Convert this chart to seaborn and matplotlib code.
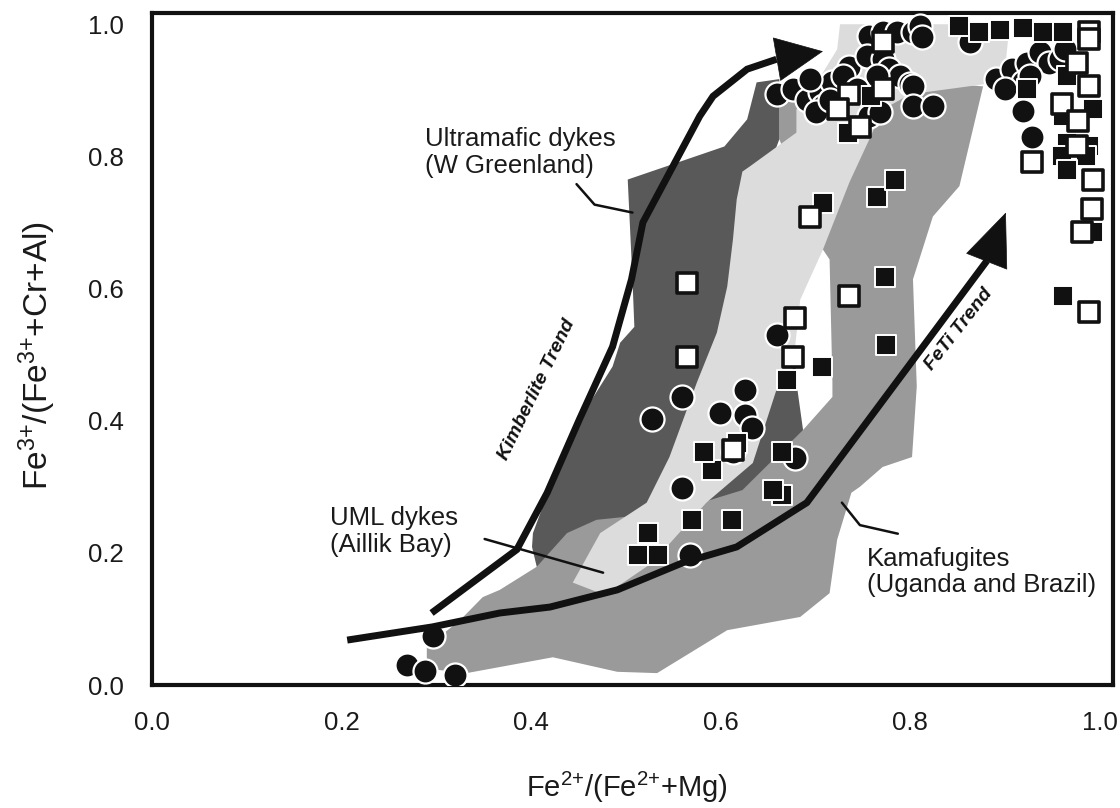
import matplotlib
matplotlib.use("Agg")
import matplotlib.pyplot as plt
import seaborn as sns

# ---- compositional fields: Fe2+/(Fe2++Mg) vs Fe3+/(Fe3++Cr+Al) ----
kamafugite_x = [0.290, 0.290, 0.301, 0.332, 0.423, 0.491, 0.533, 0.607, 0.684, 0.715,
                0.723, 0.738, 0.747, 0.771, 0.802, 0.807, 0.803, 0.824, 0.852, 0.877,
                0.800, 0.700, 0.662, 0.662, 0.690, 0.708, 0.715, 0.718, 0.718, 0.687,
                0.600, 0.500, 0.440, 0.410, 0.406, 0.367, 0.349, 0.325]
kamafugite_y = [0.058, 0.038, 0.023, 0.018, 0.042, 0.020, 0.018, 0.083, 0.103, 0.139,
                0.220, 0.291, 0.300, 0.330, 0.345, 0.452, 0.614, 0.709, 0.755, 0.906,
                0.915, 0.915, 0.895, 0.826, 0.720, 0.659, 0.644, 0.458, 0.436, 0.386,
                0.340, 0.300, 0.260, 0.200, 0.179, 0.144, 0.133, 0.098]

greenland_x = [0.502, 0.549, 0.604, 0.628, 0.638, 0.662, 0.662, 0.650, 0.675, 0.680,
               0.687, 0.623, 0.589, 0.550, 0.469, 0.438, 0.406, 0.401, 0.402, 0.423,
               0.451, 0.486, 0.494, 0.509, 0.507]
greenland_y = [0.765, 0.788, 0.815, 0.856, 0.912, 0.917, 0.826, 0.780, 0.600, 0.458,
               0.386, 0.295, 0.280, 0.262, 0.250, 0.230, 0.179, 0.209, 0.230, 0.311,
               0.402, 0.482, 0.518, 0.542, 0.614]

aillik_x = [0.726, 0.723, 0.708, 0.680, 0.680, 0.631, 0.623, 0.617, 0.613, 0.607,
            0.596, 0.575, 0.546, 0.522, 0.473, 0.444, 0.473, 0.486, 0.528, 0.585,
            0.634, 0.659, 0.676, 0.684, 0.708, 0.736, 0.757, 0.771, 0.800, 0.877,
            0.900, 0.905]
aillik_y = [1.000, 0.962, 0.927, 0.871, 0.836, 0.785, 0.777, 0.735, 0.674, 0.603,
            0.533, 0.458, 0.345, 0.276, 0.230, 0.155, 0.139, 0.144, 0.185, 0.276,
            0.336, 0.447, 0.477, 0.583, 0.659, 0.761, 0.826, 0.871, 0.894, 0.909,
            0.930, 1.000]

# ---- spinel analyses ----
circle_x = [0.296, 0.269, 0.288, 0.320,
            0.559, 0.528, 0.599, 0.626, 0.626, 0.633, 0.613, 0.678, 0.559, 0.568, 0.660,
            0.757, 0.771, 0.786, 0.803, 0.810, 0.813, 0.736, 0.754, 0.771, 0.778, 0.789,
            0.800, 0.660, 0.676, 0.691, 0.705, 0.718, 0.729, 0.708, 0.701, 0.715, 0.757,
            0.768, 0.803, 0.803, 0.824, 0.765, 0.744, 0.694,
            0.863, 0.891, 0.908, 0.923, 0.937, 0.947, 0.919, 0.926, 0.919, 0.929, 0.958,
            0.900, 0.963]
circle_y = [0.074, 0.030, 0.021, 0.015,
            0.436, 0.402, 0.412, 0.447, 0.409, 0.389, 0.352, 0.344, 0.298, 0.197, 0.530,
            0.982, 0.989, 0.989, 0.988, 0.997, 0.980, 0.936, 0.952, 0.947, 0.932, 0.921,
            0.909, 0.894, 0.902, 0.886, 0.897, 0.912, 0.921, 0.876, 0.867, 0.886, 0.861,
            0.867, 0.906, 0.876, 0.876, 0.921, 0.902, 0.917,
            0.973, 0.917, 0.932, 0.942, 0.958, 0.942, 0.912, 0.921, 0.868, 0.830, 0.947,
            0.902, 0.962]

black_sq_x = [0.617, 0.591, 0.583, 0.665, 0.670, 0.707, 0.665, 0.655, 0.570, 0.612,
              0.523, 0.513, 0.534, 0.708, 0.773, 0.775, 0.765, 0.784, 0.734, 0.759,
              0.852, 0.873, 0.895, 0.919, 0.940, 0.961, 0.965, 0.923, 0.993, 0.961,
              0.965, 0.989, 0.960, 0.986, 0.965, 0.993, 0.961]
black_sq_y = [0.367, 0.326, 0.353, 0.353, 0.462, 0.482, 0.288, 0.295, 0.250, 0.250,
              0.230, 0.197, 0.197, 0.730, 0.617, 0.515, 0.738, 0.765, 0.836, 0.891,
              0.997, 0.988, 0.992, 0.995, 0.988, 0.988, 0.921, 0.902, 0.871, 0.861,
              0.821, 0.815, 0.800, 0.800, 0.780, 0.686, 0.588]

white_sq_x = [0.565, 0.565, 0.678, 0.676, 0.613, 0.694, 0.736, 0.771, 0.736, 0.771,
              0.724, 0.747, 0.989, 0.989, 0.976, 0.989, 0.960, 0.977, 0.976, 0.929,
              0.993, 0.992, 0.981, 0.989]
white_sq_y = [0.609, 0.497, 0.556, 0.497, 0.356, 0.709, 0.589, 0.973, 0.894, 0.902,
              0.871, 0.845, 0.989, 0.977, 0.942, 0.906, 0.879, 0.853, 0.815, 0.791,
              0.765, 0.720, 0.685, 0.564]

# ---- trends (last vertex is the arrow tip) ----
kimberlite_x = [0.295, 0.385, 0.417, 0.451, 0.486, 0.506, 0.518, 0.578, 0.592, 0.628, 0.659, 0.708]
kimberlite_y = [0.109, 0.205, 0.291, 0.402, 0.512, 0.614, 0.700, 0.861, 0.891, 0.932, 0.947, 0.959]

feti_x = [0.206, 0.296, 0.367, 0.420, 0.491, 0.560, 0.617, 0.691, 0.881, 0.901]
feti_y = [0.068, 0.088, 0.109, 0.118, 0.144, 0.185, 0.209, 0.276, 0.642, 0.715]

# ---- leader lines for the field labels ----
lead_greenland_x = [0.448, 0.467, 0.507]
lead_greenland_y = [0.758, 0.727, 0.715]
lead_aillik_x = [0.351, 0.476]
lead_aillik_y = [0.221, 0.170]
lead_kama_x = [0.728, 0.747, 0.787]
lead_kama_y = [0.276, 0.242, 0.229]

x_ticks = [0.0, 0.2, 0.4, 0.6, 0.8, 1.0]
y_ticks = [0.0, 0.2, 0.4, 0.6, 0.8, 1.0]

sns.set_theme(style="white")
plt.rcParams["font.family"] = ["Liberation Sans", "DejaVu Sans"]
plt.rcParams["mathtext.fontset"] = "custom"
plt.rcParams["mathtext.rm"] = "Liberation Sans"
plt.rcParams["mathtext.it"] = "Liberation Sans:italic"
plt.rcParams["mathtext.bf"] = "Liberation Sans:bold"

fig = plt.figure(figsize=(11.2, 8.08), dpi=100, facecolor="white")
ax = fig.add_axes([0.1357, 0.1522, 0.858, 0.8317])
ax.set_facecolor("white")

DARK, MID, LIGHT, INK = "#595959", "#9a9a9a", "#dcdcdc", "#111111"

ax.fill(kamafugite_x, kamafugite_y, color=MID, lw=0, zorder=1)
ax.fill(greenland_x, greenland_y, color=DARK, lw=0, zorder=2)
ax.fill(aillik_x, aillik_y, color=LIGHT, lw=0, zorder=3)

sns.scatterplot(x=circle_x, y=circle_y, marker="o", s=300, color=INK,
                edgecolor="white", linewidth=1.6, ax=ax, zorder=4)
sns.scatterplot(x=black_sq_x, y=black_sq_y, marker="s", s=200, color=INK,
                edgecolor="white", linewidth=1.4, ax=ax, zorder=5)
sns.scatterplot(x=white_sq_x, y=white_sq_y, marker="s", s=200, color="white",
                edgecolor=INK, linewidth=2.6, ax=ax, zorder=6)

# trend lines with filled arrowheads
for tx, ty, hl, hw in [(kimberlite_x, kimberlite_y, 33, 15.5),
                       (feti_x, feti_y, 37, 15.5)]:
    sns.lineplot(x=tx[:-1], y=ty[:-1], sort=False, estimator=None, color=INK,
                 linewidth=5, ax=ax, zorder=7, solid_capstyle="butt",
                 solid_joinstyle="miter")
    ax.annotate("", xy=(tx[-1], ty[-1]), xytext=(tx[-2], ty[-2]),
                arrowprops=dict(arrowstyle=f"-|>,head_length={hl / 10},head_width={hw / 10}",
                                mutation_scale=10, color=INK, lw=0.5,
                                shrinkA=0, shrinkB=0),
                zorder=7)

for lx, ly in [(lead_greenland_x, lead_greenland_y),
               (lead_aillik_x, lead_aillik_y),
               (lead_kama_x, lead_kama_y)]:
    sns.lineplot(x=lx, y=ly, sort=False, estimator=None, color=INK,
                 linewidth=1.8, ax=ax, zorder=7)

label_kw = dict(fontsize=18.5, color="#1a1a1a", ha="left", va="center",
                linespacing=1.15, zorder=8)
ax.text(0.288, 0.806, "Ultramafic dykes\n(W Greenland)", **label_kw)
ax.text(0.188, 0.232, "UML dykes\n(Aillik Bay)", **label_kw)
ax.text(0.754, 0.171, "Kamafugites\n(Uganda and Brazil)", **label_kw)

ax.text(0.406, 0.447, "Kimberlite Trend", fontsize=14, fontweight="bold",
        fontstyle="italic", rotation=64, ha="center", va="center", color=INK, zorder=8)
ax.text(0.851, 0.538, "FeTi Trend", fontsize=14, fontweight="bold",
        fontstyle="italic", rotation=52, ha="center", va="center", color=INK, zorder=8)

ax.set_xlim(0, 1.014)
ax.set_ylim(0, 1.017)
ax.set_xticks(x_ticks)
ax.set_yticks(y_ticks)
ax.set_xticklabels([f"{t:.1f}" for t in x_ticks])
ax.set_yticklabels([f"{t:.1f}" for t in y_ticks])
ax.tick_params(axis="both", direction="out", length=9.5, width=3, color=INK,
               labelsize=18.5, labelcolor="#1a1a1a")
ax.tick_params(axis="x", pad=9)
ax.tick_params(axis="y", pad=11)
for sp in ax.spines.values():
    sp.set_linewidth(3)
    sp.set_color(INK)
    sp.set_visible(True)

ax.set_xlabel(r"Fe$^{2{+}}$/(Fe$^{2{+}}$+Mg)", fontsize=21, color="#1a1a1a")
ax.set_ylabel(r"Fe$^{3{+}}$/(Fe$^{3{+}}$+Cr+Al)", fontsize=24, color="#1a1a1a")
ax.xaxis.set_label_coords(0.494, -0.126)
ax.yaxis.set_label_coords(-0.098, 0.491)

fig.savefig("out.png", dpi=100, facecolor="white")
